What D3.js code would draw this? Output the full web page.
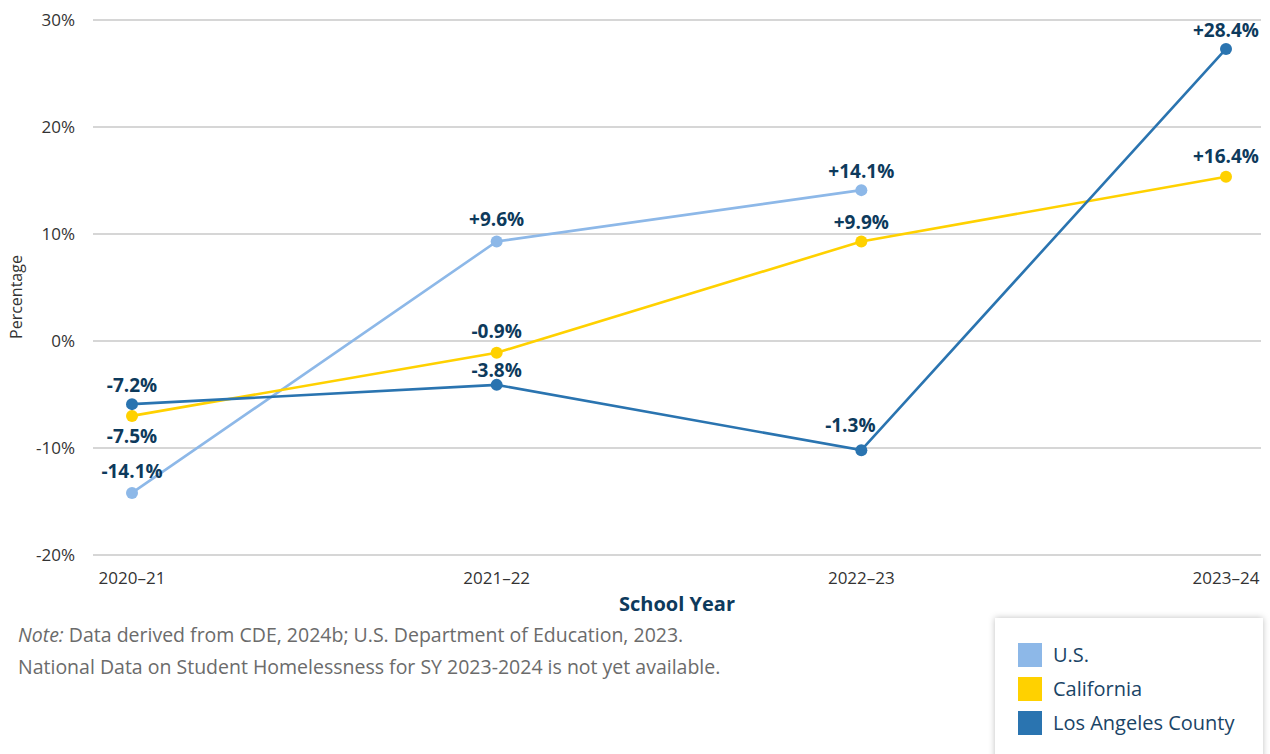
<!DOCTYPE html>
<html>
<head>
<meta charset="utf-8">
<script src="https://cdn.jsdelivr.net/npm/d3@7"></script>
<style>
  body { margin: 0; background: #fff; font-family: "Open Sans", sans-serif; }
  .grid line { stroke: #c8c8c8; stroke-width: 1.3; }
  .axis text { fill: #333; font-size: 17px; }
</style>
</head>
<body>
<script>
// School years on the x axis
var years = ["2020\u201321", "2021\u201322", "2022\u201323", "2023\u201324"];
var yTicks = [-20, -10, 0, 10, 20, 30];

// plotted values
var usValues = [-14.2, 9.3, 14.1];
var caValues = [-7.0, -1.1, 9.3, 15.35];
var laValues = [-5.9, -4.1, -10.2, 27.3];

// printed labels
var usLabels = ["-14.1%", "+9.6%", "+14.1%"];
var caLabels = ["-7.5%", "-0.9%", "+9.9%", "+16.4%"];
var laLabels = ["-7.2%", "-3.8%", "-1.3%", "+28.4%"];

var seriesNames = ["U.S.", "California", "Los Angeles County"];
var seriesColors = ["#8db8e8", "#ffd100", "#2a74b0"];

var width = 1270, height = 754;
var svg = d3.select("body").append("svg")
  .attr("width", width).attr("height", height);

var xScale = d3.scalePoint().domain(years).range([132, 1226]);
var yScale = d3.scaleLinear().domain([-20, 30]).range([555, 20]);

// gridlines
svg.append("g").attr("class", "grid")
  .selectAll("line").data(yTicks).enter().append("line")
  .attr("x1", 93).attr("x2", 1261)
  .attr("y1", function(d) { return yScale(d); })
  .attr("y2", function(d) { return yScale(d); });

// y axis labels
svg.append("g").attr("class", "axis")
  .selectAll("text").data(yTicks).enter().append("text")
  .attr("x", 75).attr("y", function(d) { return yScale(d); })
  .attr("dy", "0.35em").attr("text-anchor", "end")
  .text(function(d) { return d + "%"; });

// x axis labels
svg.append("g").attr("class", "axis")
  .selectAll("text").data(years).enter().append("text")
  .attr("x", function(d) { return xScale(d); }).attr("y", 584)
  .attr("text-anchor", "middle")
  .text(function(d) { return d; });

svg.append("text")
  .attr("x", 677).attr("y", 611).attr("text-anchor", "middle")
  .style("font-size", "20px").style("font-weight", "bold").style("fill", "#0d3a5c")
  .text("School Year");

svg.append("text")
  .attr("transform", "translate(22,297) rotate(-90)")
  .attr("text-anchor", "middle")
  .style("font-size", "16px").style("fill", "#333")
  .text("Percentage");

var line = d3.line()
  .x(function(d, i) { return xScale(years[i]); })
  .y(function(d) { return yScale(d); });

// label offsets: [dx, dy] of the text baseline relative to the dot
var usOffsets = [[0, -15], [0, -15], [0, -12]];
var caOffsets = [[0, 27], [0, -15], [0, -12], [0, -14]];
var laOffsets = [[0, -12], [0, -8], [-11, -18], [0, -12]];

var allSeries = [
  {values: usValues, labels: usLabels, offsets: usOffsets, color: seriesColors[0]},
  {values: caValues, labels: caLabels, offsets: caOffsets, color: seriesColors[1]},
  {values: laValues, labels: laLabels, offsets: laOffsets, color: seriesColors[2]}
];

allSeries.forEach(function(s) {
  svg.append("path").datum(s.values)
    .attr("d", line).attr("fill", "none")
    .attr("stroke", s.color).attr("stroke-width", 2.6);
  svg.append("g").selectAll("circle").data(s.values).enter().append("circle")
    .attr("cx", function(d, i) { return xScale(years[i]); })
    .attr("cy", function(d) { return yScale(d); })
    .attr("r", 6).attr("fill", s.color);
});

allSeries.forEach(function(s) {
  svg.append("g").selectAll("text").data(s.values).enter().append("text")
    .attr("x", function(d, i) { return xScale(years[i]) + s.offsets[i][0]; })
    .attr("y", function(d, i) { return yScale(d) + s.offsets[i][1]; })
    .attr("text-anchor", "middle")
    .style("font-size", "19px").style("font-weight", "bold").style("fill", "#0d3a5c")
    .text(function(d, i) { return s.labels[i]; });
});

// note
var note = svg.append("text").attr("x", 18).attr("y", 642)
  .style("font-size", "19.5px").style("fill", "#6b6b6b");
note.append("tspan").style("font-style", "italic").text("Note:");
note.append("tspan").text(" Data derived from CDE, 2024b; U.S. Department of Education, 2023.");
svg.append("text").attr("x", 18).attr("y", 674)
  .style("font-size", "19.5px").style("fill", "#6b6b6b")
  .text("National Data on Student Homelessness for SY 2023-2024 is not yet available.");

// legend box with shadow
var defs = svg.append("defs");
var f = defs.append("filter").attr("id", "shadow")
  .attr("x", "-10%").attr("y", "-10%").attr("width", "120%").attr("height", "130%");
f.append("feDropShadow").attr("dx", 0).attr("dy", 0).attr("stdDeviation", 3)
  .attr("flood-color", "#000").attr("flood-opacity", 0.25);

svg.append("rect").attr("x", 995).attr("y", 618).attr("width", 268).attr("height", 150)
  .attr("fill", "#fff").attr("filter", "url(#shadow)");

var legend = svg.append("g").selectAll("g").data(seriesNames).enter().append("g")
  .attr("transform", function(d, i) { return "translate(1018," + (643 + i * 34) + ")"; });
legend.append("rect").attr("width", 24).attr("height", 24)
  .attr("fill", function(d, i) { return seriesColors[i]; });
legend.append("text").attr("x", 35).attr("y", 12).attr("dy", "0.35em")
  .style("font-size", "20px").style("fill", "#1a4466")
  .text(function(d) { return d; });
</script>
</body>
</html>
